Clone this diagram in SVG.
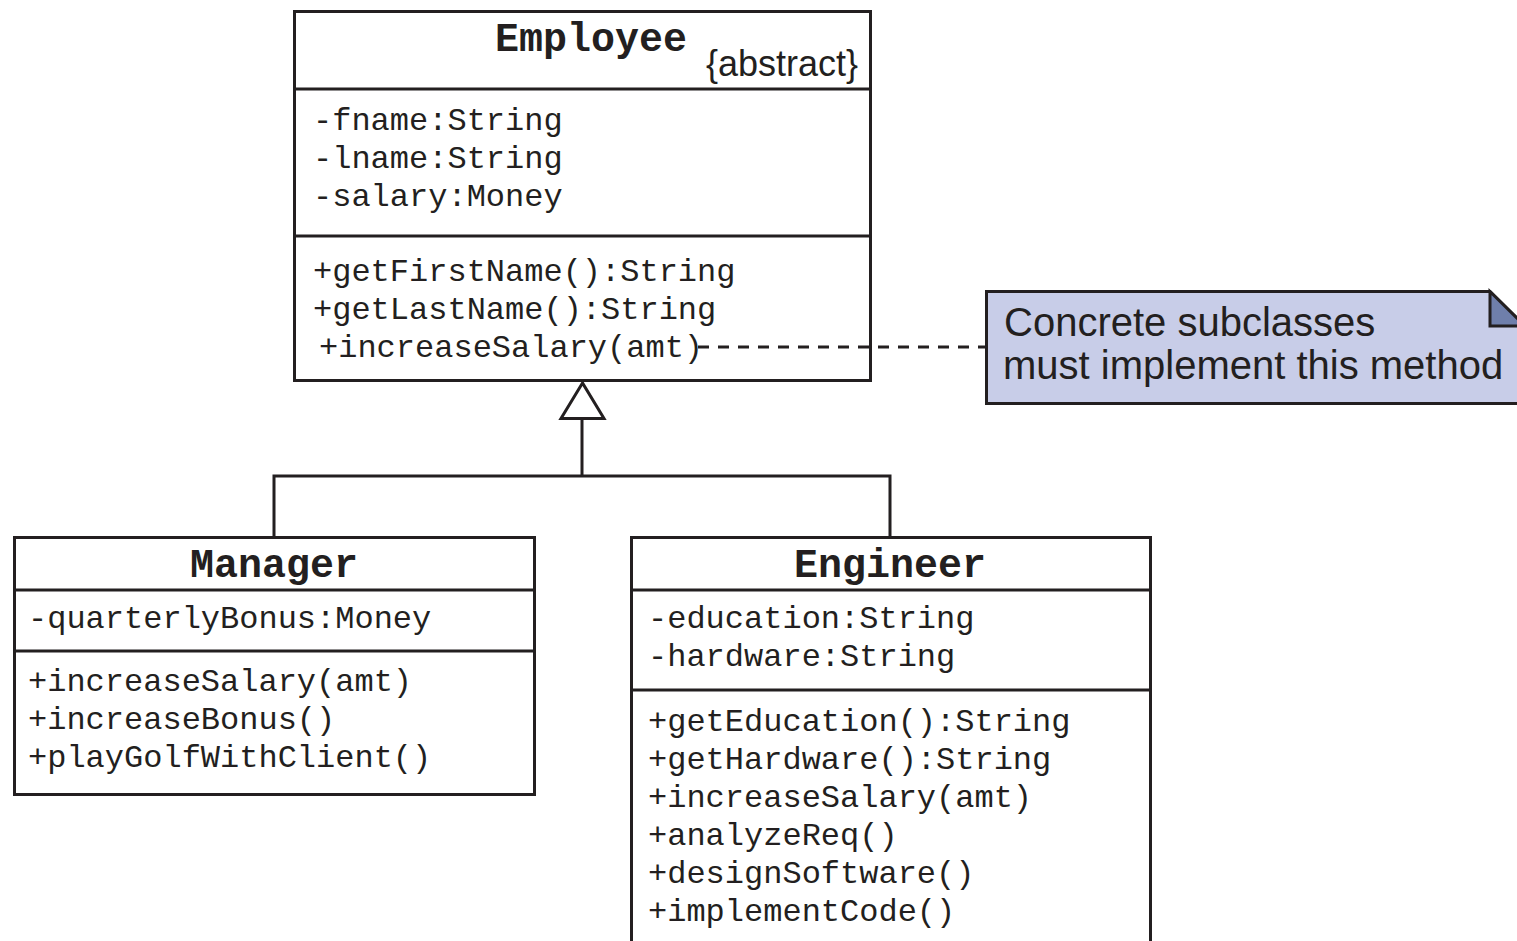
<svg xmlns="http://www.w3.org/2000/svg" width="1517" height="941" viewBox="0 0 1517 941">
  <style>
    .box { fill: #ffffff; stroke: #231f20; stroke-width: 3; }
    .div { stroke: #231f20; stroke-width: 3; fill: none; }
    .title { font-family: "Liberation Mono", "Courier New", monospace; font-weight: bold; font-size: 40px; fill: #231f20; text-anchor: middle; }
    .mono { font-family: "Liberation Mono", "Courier New", monospace; font-size: 32px; fill: #231f20; }
    .sans { font-family: "Liberation Sans", Arial, sans-serif; fill: #231f20; }
    .edge { stroke: #231f20; stroke-width: 3; fill: none; }
    .dash { stroke: #231f20; stroke-width: 3; fill: none; stroke-dasharray: 11 9; }
  </style>
  <rect width="1517" height="941" fill="#ffffff"/>

  <!-- Employee (abstract) -->
  <g id="employee">
    <rect class="box" x="294.5" y="11.5" width="576" height="369"/>
    <line class="div" x1="294" y1="89" x2="871" y2="89"/>
    <line class="div" x1="294" y1="236" x2="871" y2="236"/>
    <text class="title" x="591" y="51">Employee</text>
    <text class="sans" x="706" y="76" font-size="36">{abstract}</text>
    <text class="mono" x="313" y="130">-fname:String</text>
    <text class="mono" x="313" y="168">-lname:String</text>
    <text class="mono" x="313" y="206">-salary:Money</text>
    <text class="mono" x="313" y="281">+getFirstName():String</text>
    <text class="mono" x="313" y="319">+getLastName():String</text>
    <text class="mono" x="319" y="357">+increaseSalary(amt)</text>
  </g>

  <!-- Note -->
  <g id="note">
    <path d="M986.5 291.5 H1490 L1530 331 V403.5 H986.5 Z" fill="#c8cde8" stroke="#231f20" stroke-width="3"/>
    <path d="M1490 291.5 V326 H1525 Z" fill="#6f7fab" stroke="#231f20" stroke-width="3" stroke-linejoin="miter"/>
    <text class="sans" x="1004" y="336" font-size="40">Concrete subclasses</text>
    <text class="sans" x="1003" y="379" font-size="40">must implement this method</text>
  </g>

  <!-- Manager -->
  <g id="manager">
    <rect class="box" x="14.5" y="537.5" width="520" height="257"/>
    <line class="div" x1="14" y1="590" x2="535" y2="590"/>
    <line class="div" x1="14" y1="651" x2="535" y2="651"/>
    <text class="title" x="274" y="577">Manager</text>
    <text class="mono" x="28" y="628">-quarterlyBonus:Money</text>
    <text class="mono" x="28" y="691">+increaseSalary(amt)</text>
    <text class="mono" x="28" y="729">+increaseBonus()</text>
    <text class="mono" x="28" y="767">+playGolfWithClient()</text>
  </g>

  <!-- Engineer -->
  <g id="engineer">
    <rect class="box" x="631.5" y="537.5" width="519" height="420"/>
    <line class="div" x1="631" y1="590" x2="1151" y2="590"/>
    <line class="div" x1="631" y1="690" x2="1151" y2="690"/>
    <text class="title" x="890" y="577">Engineer</text>
    <text class="mono" x="648" y="628">-education:String</text>
    <text class="mono" x="648" y="666">-hardware:String</text>
    <text class="mono" x="648" y="731">+getEducation():String</text>
    <text class="mono" x="648" y="769">+getHardware():String</text>
    <text class="mono" x="648" y="807">+increaseSalary(amt)</text>
    <text class="mono" x="648" y="845">+analyzeReq()</text>
    <text class="mono" x="648" y="883">+designSoftware()</text>
    <text class="mono" x="648" y="921">+implementCode()</text>
  </g>

  <!-- Connectors -->
  <g id="connectors">
    <polyline class="edge" points="274,537 274,476 890,476 890,537"/>
    <line class="edge" x1="582" y1="476" x2="582" y2="418"/>
    <polygon class="edge" points="582.5,383 561,418.5 604,418.5" fill="#ffffff" stroke-linejoin="miter"/>
    <line class="dash" x1="698" y1="347" x2="986" y2="347"/>
  </g>
</svg>
